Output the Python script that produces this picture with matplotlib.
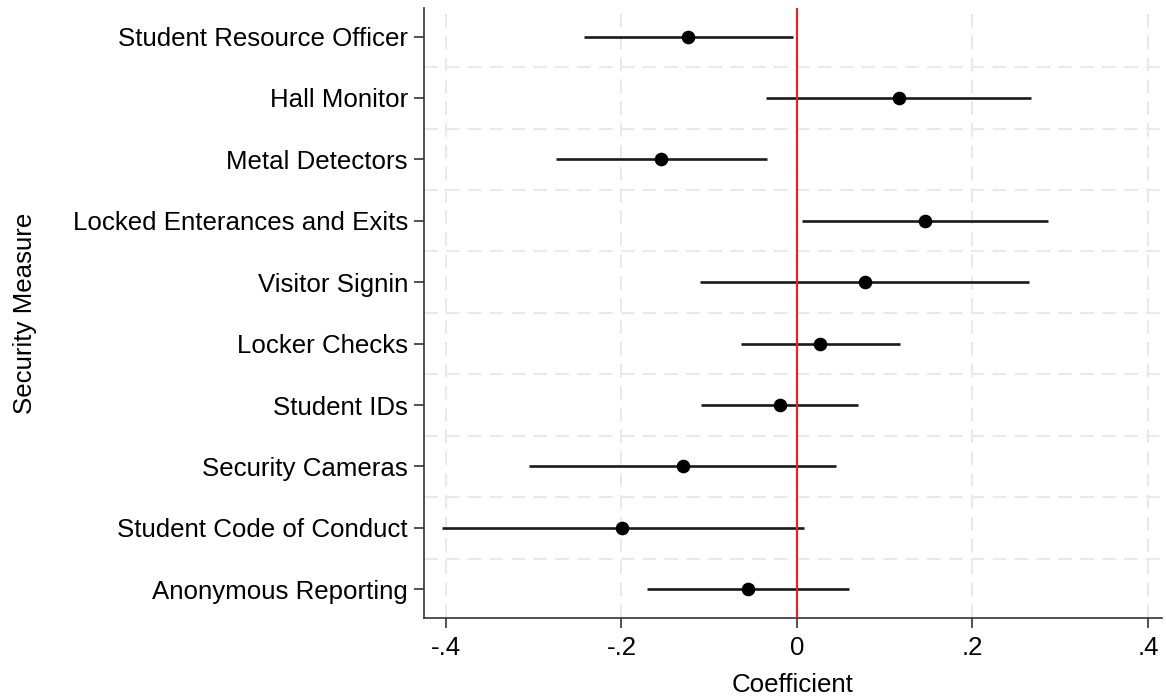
import matplotlib
matplotlib.use("Agg")
import matplotlib.pyplot as plt
import numpy as np

measures = ["Student Resource Officer", "Hall Monitor", "Metal Detectors",
            "Locked Enterances and Exits", "Visitor Signin", "Locker Checks",
            "Student IDs", "Security Cameras", "Student Code of Conduct",
            "Anonymous Reporting"]
coef = [-0.124, 0.116, -0.155, 0.146, 0.077, 0.026, -0.019, -0.130, -0.199, -0.056]
ci_low = [-0.243, -0.035, -0.275, 0.006, -0.111, -0.064, -0.109, -0.305, -0.405, -0.171]
ci_high = [-0.005, 0.267, -0.034, 0.286, 0.264, 0.117, 0.070, 0.044, 0.008, 0.059]
xticks = [-0.4, -0.2, 0.0, 0.2, 0.4]
xticklabels = ["-.4", "-.2", "0", ".2", ".4"]

plt.rcParams['font.family'] = ['Liberation Sans', 'DejaVu Sans']

fig = plt.figure(figsize=(11.66, 7.0), dpi=100)
ax = fig.add_axes([0.3636, 0.117, 0.6330, 0.872])

ypos = np.arange(1, len(measures) + 1)

# grid
for x in xticks:
    ax.axvline(x, color='#e9e9e9', lw=1.5, ls=(0, (6.5, 4)), zorder=0)
for y in ypos[:-1] + 0.5:
    ax.axhline(y, color='#e9e9e9', lw=1.5, ls=(0, (6.5, 4)), zorder=0)

ax.hlines(ypos, ci_low, ci_high, color='#1a1a1a', lw=1.9, zorder=2)
ax.plot(coef, ypos, 'o', color='black', ms=8.8, zorder=3)
ax.axvline(0, color='#ff1a1a', lw=1.5, zorder=4)

ax.set_xlim(-0.425, 0.416)
ax.set_ylim(10.47, 0.53)
ax.set_yticks(ypos)
ax.set_yticklabels(measures, fontsize=18.6)
ax.set_xticks(xticks)
ax.set_xticklabels(xticklabels, fontsize=18.6)
ax.set_xlabel("Coefficient", fontsize=18.6, labelpad=9)
ax.set_ylabel("Security Measure", fontsize=18.6, labelpad=26)

for s in ['top', 'right']:
    ax.spines[s].set_visible(False)
for s in ['left', 'bottom']:
    ax.spines[s].set_color('#333333')
    ax.spines[s].set_linewidth(1.2)
ax.tick_params(axis='y', length=7, width=1.2, color='#333333', pad=4.5)
ax.tick_params(axis='x', length=7, width=1.2, color='#333333', pad=6)

fig.savefig("out.png", dpi=100)
